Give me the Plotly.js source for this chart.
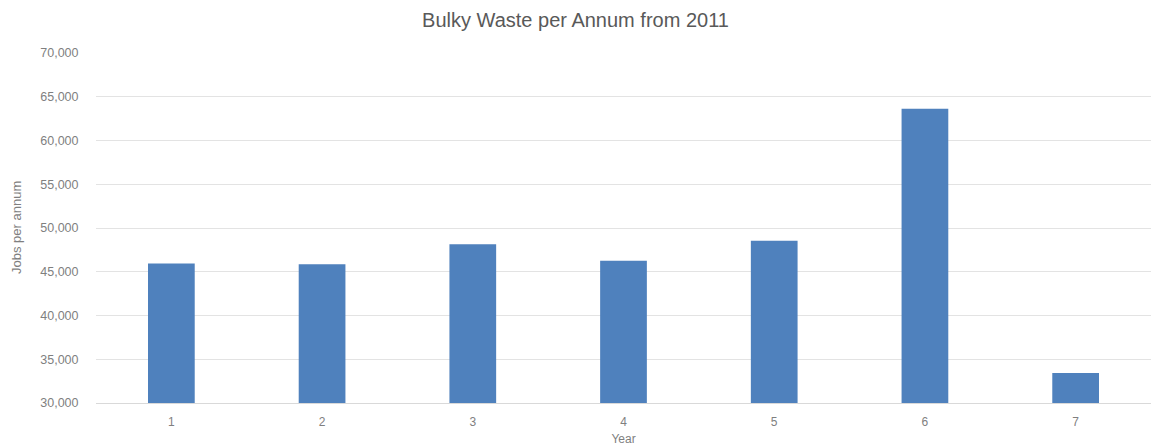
<!DOCTYPE html>
<html>
<head>
<meta charset="utf-8">
<script src="https://cdn.plot.ly/plotly-3.0.1.min.js"></script>
<style>html,body{margin:0;padding:0;background:#fff;}#chart{width:1151px;height:448px;}</style>
</head>
<body>
<div id="chart"></div>
<script>
const years = ["1", "2", "3", "4", "5", "6", "7"];
const jobsPerAnnum = [45950, 45850, 48150, 46250, 48530, 63620, 33420];
const yTickValues = [30000, 35000, 40000, 45000, 50000, 55000, 60000, 65000, 70000];

const fontFam = "Liberation Sans, Arial, sans-serif";
const trace = {
  type: "bar",
  x: years,
  y: jobsPerAnnum,
  marker: { color: "#4F81BD" },
  hoverinfo: "x+y"
};

const plotLeft = 96, plotWidth = 1151 - 96;

const layout = {
  width: 1151,
  height: 448,
  margin: { l: plotLeft, r: 0, t: 53, b: 45 },
  paper_bgcolor: "#ffffff",
  plot_bgcolor: "#ffffff",
  bargap: 0.69,
  showlegend: false,
  font: { family: fontFam, color: "#7f7f7f", size: 12 },
  title: {
    text: "Bulky Waste per Annum from 2011",
    font: { family: fontFam, size: 20, color: "#595959" },
    x: 0.5, xref: "container", xanchor: "center",
    y: 1 - 20 / 448, yref: "container", yanchor: "middle"
  },
  xaxis: {
    type: "category",
    automargin: false,
    tickfont: { size: 12, color: "#7f7f7f" },
    showgrid: false,
    showline: true,
    linecolor: "#d9d9d9",
    linewidth: 1,
    ticks: "outside",
    ticklen: 8,
    tickcolor: "rgba(0,0,0,0)",
    title: { text: "Year", font: { size: 12, color: "#7f7f7f" }, standoff: 6 }
  },
  yaxis: {
    range: [30000, 70000],
    automargin: false,
    tickvals: yTickValues,
    tickformat: ",d",
    tickfont: { size: 12.5, color: "#7f7f7f" },
    showgrid: true,
    gridcolor: "#e3e3e3",
    gridwidth: 1,
    zeroline: false,
    showline: false,
    ticks: "outside",
    ticklen: 14,
    tickcolor: "rgba(0,0,0,0)"
  },
  annotations: [{
    text: "Jobs per annum",
    textangle: -90,
    xref: "paper", yref: "paper",
    x: (16 - plotLeft) / plotWidth, y: 0.5,
    xanchor: "center", yanchor: "middle",
    showarrow: false,
    font: { family: fontFam, size: 13, color: "#7f7f7f" }
  }]
};

Plotly.newPlot("chart", [trace], layout, { displayModeBar: false, staticPlot: true });
</script>
</body>
</html>
